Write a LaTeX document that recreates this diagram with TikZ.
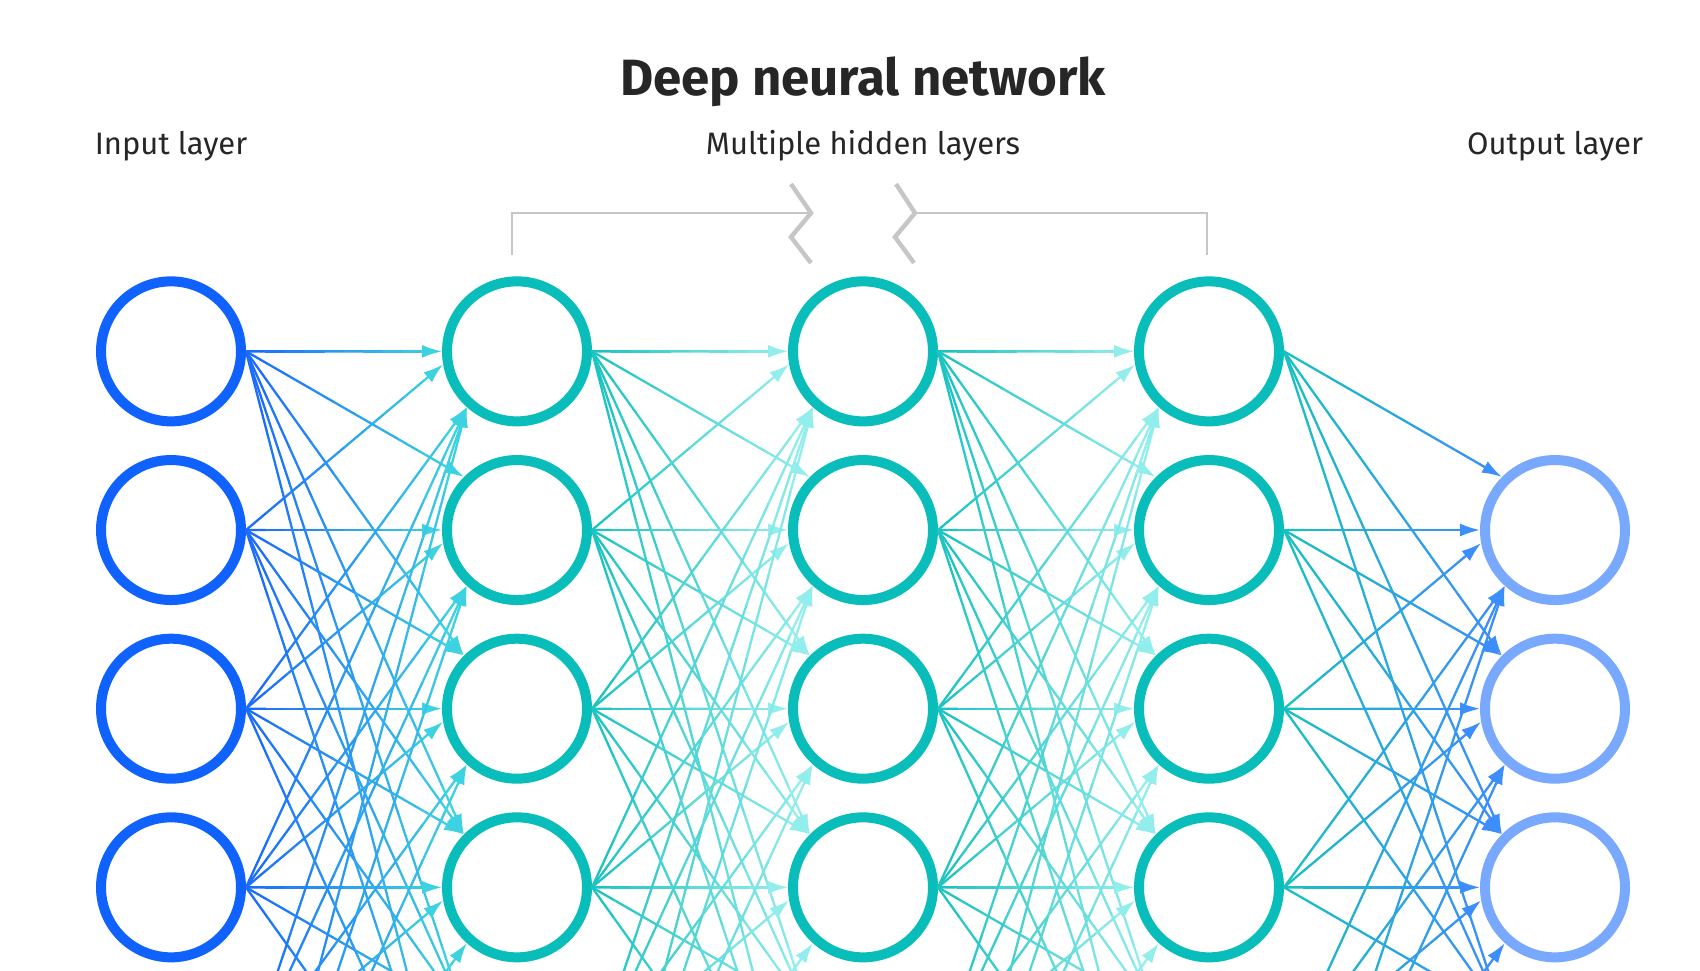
\documentclass[tikz,border=0pt]{standalone}
\usepackage{fontspec}
\setmainfont{Fira Sans}
\usepackage{tikz}
\usetikzlibrary{positioning, matrix, calc, arrows.meta}

\definecolor{inblue}{HTML}{0F62FE}
\definecolor{hidteal}{HTML}{08BDBA}
\definecolor{outblue}{HTML}{78A9FF}
\definecolor{lnblue}{HTML}{1A66FF}
\definecolor{lncyan}{HTML}{3ED8DF}
\definecolor{lnteal}{HTML}{18C2C0}
\definecolor{lnpale}{HTML}{98EFEF}
\definecolor{lnout}{HTML}{3D8BFF}
\definecolor{brackgray}{HTML}{C6C6C6}
\definecolor{txtgray}{HTML}{262626}

\tikzset{
  neuron/.style={circle, draw=#1, line width=5pt, minimum size=70pt, inner sep=0pt, fill=white},
  neuron/.default=hidteal,
  link/.style={line width=1.15pt, line cap=round},
  layername/.style={anchor=base, text=txtgray, font=\fontsize{15.5}{18}\selectfont},
  bracketline/.style={draw=brackgray, line width=1.3pt},
  zigline/.style={draw=brackgray, line width=2.2pt},
}

% one connector in ten pieces, fading from #4 at (#1) to #5 at the
% border point of (#2) that lies at angle #3
\newcommand{\fadelink}[5]{%
  \coordinate (tip) at (#2.#3);
  \foreach \k in {0,...,9} {
    \pgfmathtruncatemacro{\pct}{10*\k+5}
    \ifnum\k=9
      \draw[link, color=#5!\pct!#4, -{Latex[length=10pt,width=6.5pt]}]
        ($(#1.east)!0.9!(tip)$) -- (tip);
    \else
      \draw[link, color=#5!\pct!#4]
        ($(#1.east)!\k/10!(tip)$) -- ($(#1.east)!\k/10+0.1!(tip)$);
    \fi
  }%
}
% where an arrow meets its node, from the row step #1 (source row minus target row)
\newcommand{\tipangle}[1]{%
  \pgfmathtruncatemacro{\ang}{ifthenelse(#1<0,135,ifthenelse(#1==0,180,ifthenelse(#1==1,190,228)))}%
}

\begin{document}
\begin{tikzpicture}[x=0.5pt, y=-0.5pt]
  \useasboundingbox (0,0) rectangle (1700,970);
  \clip (0,0) rectangle (1700,970);

  \matrix (net) [matrix of nodes, column sep=98pt, row sep=14.33pt,
                 nodes={neuron}] at (863,798)
  {
    |[neuron=inblue](i1)| & |(ha1)| & |(hb1)| & |(hc1)| & \\
    |[neuron=inblue](i2)| & |(ha2)| & |(hb2)| & |(hc2)| & |[neuron=outblue](o1)| \\
    |[neuron=inblue](i3)| & |(ha3)| & |(hb3)| & |(hc3)| & |[neuron=outblue](o2)| \\
    |[neuron=inblue](i4)| & |(ha4)| & |(hb4)| & |(hc4)| & |[neuron=outblue](o3)| \\
    |[neuron=inblue](i5)| & |(ha5)| & |(hb5)| & |(hc5)| & |[neuron=outblue](o4)| \\
    |[neuron=inblue](i6)| & |(ha6)| & |(hb6)| & |(hc6)| & \\
  };

  \foreach \s in {1,...,6}
    \foreach \t in {1,...,6} {
      \tipangle{\s-\t}
      \fadelink{i\s}{ha\t}{\ang}{lnblue}{lncyan}
      \fadelink{ha\s}{hb\t}{\ang}{lnteal}{lnpale}
      \fadelink{hb\s}{hc\t}{\ang}{lnteal}{lnpale}
    }
  % output rows start one row lower
  \foreach \s in {1,...,6}
    \foreach \t in {1,...,4} {
      \tipangle{\s-\t-1}
      \fadelink{hc\s}{o\t}{\ang}{lnteal}{lnout}
    }

  % titles
  \node (title) [anchor=base, text=txtgray, font=\fontsize{25.5}{30}\selectfont\bfseries]
    at (hb1 |- 0,95) {Deep neural network};
  \node (inname) [layername] at (i1 |- 0,154) {Input layer};
  \node (hidname) [layername] at (hb1 |- 0,154) {Multiple hidden layers};
  \node (outname) [layername] at (o1 |- 0,154) {Output layer};

  % bracket over the hidden layers
  \draw[bracketline] (512,255) -- (512,213) -- (811,213);
  \draw[bracketline] (915,213) -- (1207,213) -- (1207,255);
  \draw[zigline] (791,184) -- (811,213) -- (791,237) -- (811,263);
  \draw[zigline] (896,184) -- (915,213) -- (895,237) -- (914,263);
\end{tikzpicture}
\end{document}
